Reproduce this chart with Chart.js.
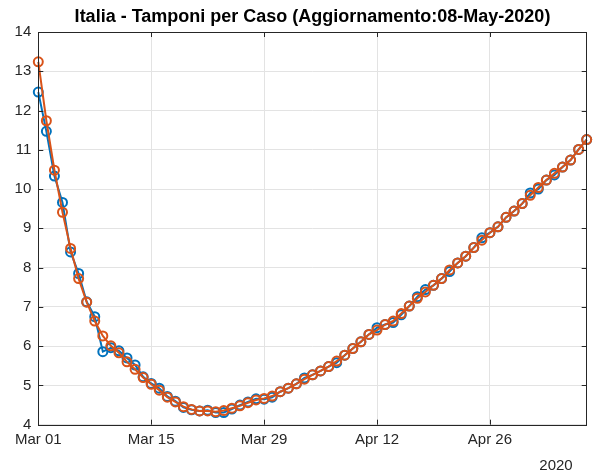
<!DOCTYPE html>
<html lang="it">

<head>
    <meta charset="UTF-8">
    <title>Italia - Tamponi per Caso</title>
    <style>
        body { margin: 0; background: #fff; }
    </style>
</head>

<body>
    <canvas id="myChart01" width="597" height="474"></canvas>
    <script src="https://cdn.jsdelivr.net/npm/chart.js"></script>
    <script>
        // giorni (Mar 01 - May 08)
        var dates = [
            'Mar 01', 'Mar 02', 'Mar 03', 'Mar 04', 'Mar 05', 'Mar 06', 'Mar 07', 'Mar 08', 'Mar 09', 'Mar 10',
            'Mar 11', 'Mar 12', 'Mar 13', 'Mar 14', 'Mar 15', 'Mar 16', 'Mar 17', 'Mar 18', 'Mar 19', 'Mar 20',
            'Mar 21', 'Mar 22', 'Mar 23', 'Mar 24', 'Mar 25', 'Mar 26', 'Mar 27', 'Mar 28', 'Mar 29', 'Mar 30',
            'Mar 31', 'Apr 01', 'Apr 02', 'Apr 03', 'Apr 04', 'Apr 05', 'Apr 06', 'Apr 07', 'Apr 08', 'Apr 09',
            'Apr 10', 'Apr 11', 'Apr 12', 'Apr 13', 'Apr 14', 'Apr 15', 'Apr 16', 'Apr 17', 'Apr 18', 'Apr 19',
            'Apr 20', 'Apr 21', 'Apr 22', 'Apr 23', 'Apr 24', 'Apr 25', 'Apr 26', 'Apr 27', 'Apr 28', 'Apr 29',
            'Apr 30', 'May 01', 'May 02', 'May 03', 'May 04', 'May 05', 'May 06', 'May 07', 'May 08'
        ];
        // tamponi per caso (blu)
        var serieBlu = [
            12.47, 11.47, 10.33, 9.66, 8.40, 7.85, 7.13, 6.75, 5.86, 5.96,
            5.88, 5.70, 5.52, 5.22, 5.05, 4.93, 4.72, 4.60, 4.44, 4.38,
            4.35, 4.37, 4.31, 4.31, 4.40, 4.50, 4.58, 4.66, 4.65, 4.70,
            4.84, 4.93, 5.04, 5.19, 5.27, 5.37, 5.48, 5.58, 5.77, 5.94,
            6.11, 6.30, 6.47, 6.55, 6.60, 6.80, 7.02, 7.26, 7.44, 7.55,
            7.72, 7.90, 8.12, 8.29, 8.51, 8.76, 8.89, 9.04, 9.28, 9.44,
            9.63, 9.90, 10.00, 10.23, 10.36, 10.56, 10.74, 11.01, 11.26
        ];
        // seconda serie (arancio)
        var serieArancio = [
            13.24, 11.74, 10.48, 9.41, 8.49, 7.72, 7.12, 6.64, 6.26, 6.01,
            5.83, 5.60, 5.41, 5.20, 5.03, 4.88, 4.70, 4.58, 4.46, 4.39,
            4.35, 4.35, 4.33, 4.36, 4.42, 4.48, 4.56, 4.63, 4.67, 4.73,
            4.84, 4.93, 5.04, 5.16, 5.27, 5.37, 5.48, 5.62, 5.77, 5.94,
            6.11, 6.30, 6.41, 6.55, 6.64, 6.83, 7.02, 7.22, 7.38, 7.55,
            7.72, 7.94, 8.12, 8.29, 8.51, 8.70, 8.89, 9.04, 9.28, 9.44,
            9.63, 9.84, 10.04, 10.23, 10.40, 10.56, 10.74, 11.01, 11.26
        ];
        var tickLabels = ['Mar 01', 'Mar 15', 'Mar 29', 'Apr 12', 'Apr 26'];
        var yTicks = [4, 5, 6, 7, 8, 9, 10, 11, 12, 13, 14];
        var yearLabel = '2020';

        var axisColor = '#262626';
        var gridColor = '#e3e3e3';

        // box + tacche verso l'interno (stile matlab)
        var boxPlugin = {
            id: 'boxPlugin',
            afterDraw: function (chart) {
                var ctx = chart.ctx;
                var a = chart.chartArea;
                var x = chart.scales.x;
                var y = chart.scales.y;
                ctx.save();
                ctx.strokeStyle = axisColor;
                ctx.lineWidth = 1;
                ctx.strokeRect(Math.round(a.left) + 0.5, Math.round(a.top) + 0.5,
                    Math.round(a.right - a.left), Math.round(a.bottom - a.top));
                ctx.beginPath();
                tickLabels.forEach(function (l) {
                    var px = Math.round(x.getPixelForValue(dates.indexOf(l))) + 0.5;
                    ctx.moveTo(px, a.bottom); ctx.lineTo(px, a.bottom - 5);
                    ctx.moveTo(px, a.top); ctx.lineTo(px, a.top + 5);
                });
                yTicks.forEach(function (v) {
                    var py = Math.round(y.getPixelForValue(v)) + 0.5;
                    ctx.moveTo(a.left, py); ctx.lineTo(a.left + 5, py);
                    ctx.moveTo(a.right, py); ctx.lineTo(a.right - 5, py);
                });
                ctx.stroke();
                // anno sotto l'asse x
                ctx.fillStyle = axisColor;
                ctx.font = '15px "Liberation Sans", Arial, sans-serif';
                ctx.textAlign = 'right';
                ctx.textBaseline = 'middle';
                ctx.fillText(yearLabel, a.right - 14, 466);
                ctx.restore();
            }
        };

        var ctx01 = document.getElementById('myChart01');
        var chart01 = new Chart(ctx01, {
            type: 'line',
            data: {
                labels: dates,
                datasets: [{
                    label: 'blu',
                    data: serieBlu,
                    borderColor: '#0072BD',
                    backgroundColor: 'rgba(0,0,0,0)',
                    borderWidth: 2,
                    pointRadius: 4.5,
                    pointBorderWidth: 2,
                    pointBorderColor: '#0072BD',
                    pointBackgroundColor: 'rgba(0,0,0,0)',
                    tension: 0,
                    order: 2
                }, {
                    label: 'arancio',
                    data: serieArancio,
                    borderColor: '#D95319',
                    backgroundColor: 'rgba(0,0,0,0)',
                    borderWidth: 2,
                    pointRadius: 4.5,
                    pointBorderWidth: 2,
                    pointBorderColor: '#D95319',
                    pointBackgroundColor: 'rgba(0,0,0,0)',
                    tension: 0,
                    order: 1
                }]
            },
            options: {
                responsive: false,
                animation: false,
                layout: { padding: { left: 0, right: 10.3, top: 0, bottom: 0 } },
                plugins: {
                    legend: { display: false },
                    tooltip: { enabled: false },
                    title: {
                        display: true,
                        fullSize: false,
                        text: 'Italia - Tamponi per Caso (Aggiornamento:08-May-2020)',
                        color: '#000',
                        font: { family: '"Liberation Sans", Arial, sans-serif', size: 18, weight: 'bold' },
                        padding: { top: 6, bottom: 4.4 }
                    }
                },
                scales: {
                    x: {
                        type: 'category',
                        offset: false,
                        border: { display: false },
                        grid: {
                            drawTicks: false,
                            color: function (c) {
                                return tickLabels.indexOf(dates[c.index]) >= 0 ? gridColor : 'rgba(0,0,0,0)';
                            }
                        },
                        ticks: {
                            autoSkip: false,
                            maxRotation: 0,
                            minRotation: 0,
                            padding: 6,
                            color: axisColor,
                            font: { family: '"Liberation Sans", Arial, sans-serif', size: 15 },
                            callback: function (value) {
                                var l = this.getLabelForValue(value);
                                return tickLabels.indexOf(l) >= 0 ? l : '';
                            }
                        },
                        afterFit: function (scale) { scale.height = 49.3; }
                    },
                    y: {
                        min: 4,
                        max: 14,
                        border: { display: false },
                        grid: { drawTicks: false, color: gridColor },
                        ticks: {
                            stepSize: 1,
                            padding: 7,
                            color: axisColor,
                            font: { family: '"Liberation Sans", Arial, sans-serif', size: 15 }
                        },
                        afterFit: function (scale) { scale.width = 38.3; }
                    }
                }
            },
            plugins: [boxPlugin]
        });
    </script>
</body>

</html>
